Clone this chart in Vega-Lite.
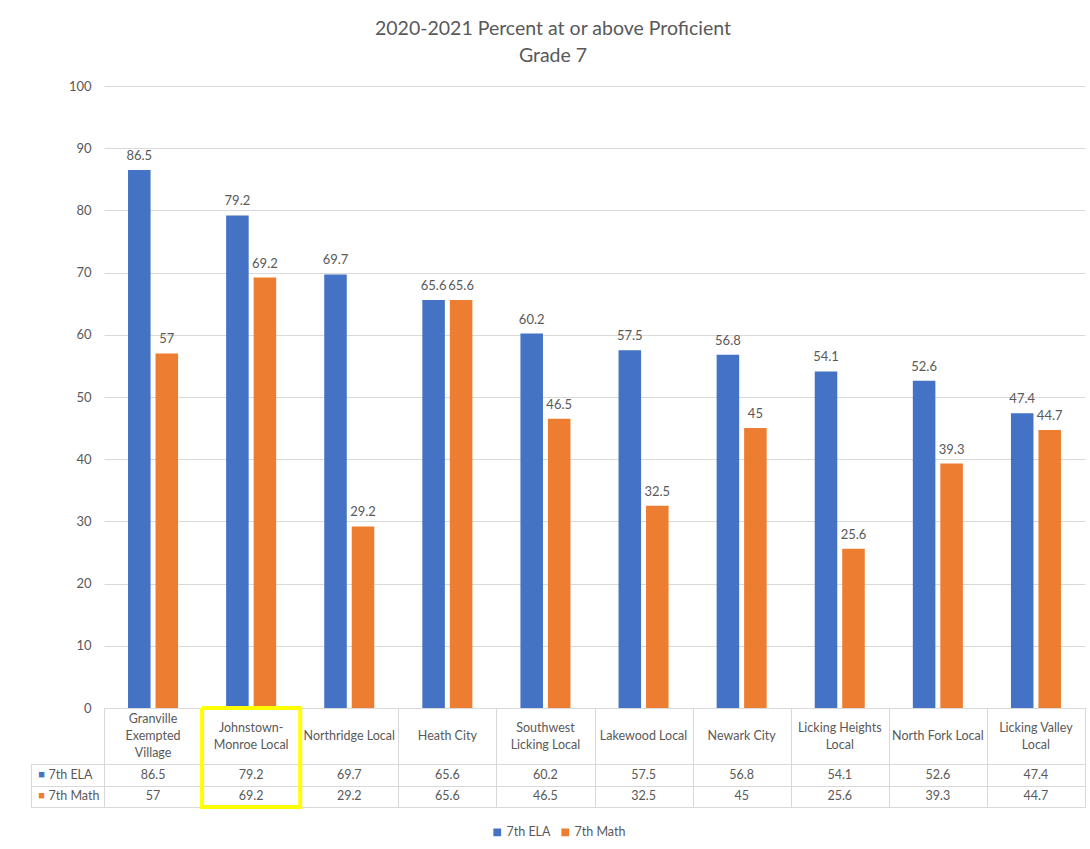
{
  "$schema": "https://vega.github.io/schema/vega-lite/v6.json",
  "padding": {"left": 30, "top": 19, "right": 6, "bottom": 5},
  "background": "white",
  "title": {
    "text": "2020-2021 Percent at or above Proficient",
    "subtitle": "Grade 7",
    "fontSize": 19.5, "fontWeight": "normal", "color": "#595959",
    "subtitleFontSize": 19.5, "subtitleColor": "#595959", "subtitlePadding": 7,
    "anchor": "middle", "offset": 14, "dx": -5
  },
  "datasets": {
    "main": [
      {"school": "Granville Exempted Village", "series": "7th ELA", "value": 86.5},
      {"school": "Granville Exempted Village", "series": "7th Math", "value": 57},
      {"school": "Johnstown-Monroe Local", "series": "7th ELA", "value": 79.2},
      {"school": "Johnstown-Monroe Local", "series": "7th Math", "value": 69.2},
      {"school": "Northridge Local", "series": "7th ELA", "value": 69.7},
      {"school": "Northridge Local", "series": "7th Math", "value": 29.2},
      {"school": "Heath City", "series": "7th ELA", "value": 65.6},
      {"school": "Heath City", "series": "7th Math", "value": 65.6},
      {"school": "Southwest Licking Local", "series": "7th ELA", "value": 60.2},
      {"school": "Southwest Licking Local", "series": "7th Math", "value": 46.5},
      {"school": "Lakewood Local", "series": "7th ELA", "value": 57.5},
      {"school": "Lakewood Local", "series": "7th Math", "value": 32.5},
      {"school": "Newark City", "series": "7th ELA", "value": 56.8},
      {"school": "Newark City", "series": "7th Math", "value": 45},
      {"school": "Licking Heights Local", "series": "7th ELA", "value": 54.1},
      {"school": "Licking Heights Local", "series": "7th Math", "value": 25.6},
      {"school": "North Fork Local", "series": "7th ELA", "value": 52.6},
      {"school": "North Fork Local", "series": "7th Math", "value": 39.3},
      {"school": "Licking Valley Local", "series": "7th ELA", "value": 47.4},
      {"school": "Licking Valley Local", "series": "7th Math", "value": 44.7}
    ],
    "schools": [
      {"school": "Granville Exempted Village", "label": ["Granville", "Exempted", "Village"]},
      {"school": "Johnstown-Monroe Local", "label": ["Johnstown-", "Monroe Local"]},
      {"school": "Northridge Local", "label": ["Northridge Local"]},
      {"school": "Heath City", "label": ["Heath City"]},
      {"school": "Southwest Licking Local", "label": ["Southwest", "Licking Local"]},
      {"school": "Lakewood Local", "label": ["Lakewood Local"]},
      {"school": "Newark City", "label": ["Newark City"]},
      {"school": "Licking Heights Local", "label": ["Licking Heights", "Local"]},
      {"school": "North Fork Local", "label": ["North Fork Local"]},
      {"school": "Licking Valley Local", "label": ["Licking Valley", "Local"]}
    ],
    "seriesList": [
      {"series": "7th ELA"},
      {"series": "7th Math"}
    ],
    "highlight": [
      {"school": "Johnstown-Monroe Local"}
    ]
  },
  "columns": 2,
  "spacing": 0,
  "bounds": "flush",
  "resolve": {"scale": {"x": "independent", "y": "independent"}},
  "concat": [
    {
      "width": 73, "height": 622,
      "data": {"values": [{}]},
      "mark": {"type": "text"},
      "encoding": {"text": {"value": ""}},
      "view": {"stroke": null}
    },
    {
      "width": 981, "height": 622,
      "data": {"name": "main"},
      "encoding": {
        "x": {"field": "school", "type": "nominal", "axis": null,
              "scale": {"domain": ["Granville Exempted Village", "Johnstown-Monroe Local", "Northridge Local", "Heath City", "Southwest Licking Local", "Lakewood Local", "Newark City", "Licking Heights Local", "North Fork Local", "Licking Valley Local"],
                        "paddingInner": 0.49, "paddingOuter": 0.245}},
        "xOffset": {"field": "series", "type": "nominal", "scale": {"paddingInner": 0.18}},
        "y": {"field": "value", "type": "quantitative",
              "scale": {"domain": [0, 100]},
              "axis": {"title": null, "values": [0,10,20,30,40,50,60,70,80,90,100],
                       "labelOverlap": false,
                       "domain": false, "ticks": false, "labelPadding": 13,
                       "labelFontSize": 13, "labelColor": "#595959",
                       "gridColor": "#d9d9d9", "gridWidth": 1}}
      },
      "layer": [
        {
          "mark": {"type": "bar"},
          "encoding": {
            "color": {"field": "series", "type": "nominal",
                      "scale": {"domain": ["7th ELA", "7th Math"], "range": ["#4472C4", "#ED7D31"]},
                      "legend": {"title": null, "orient": "bottom", "direction": "horizontal", "symbolType": "square",
                                 "symbolSize": 60, "labelFontSize": 12.5, "labelColor": "#595959", "labelOffset": 3,
                                 "columnPadding": 8, "offset": 16}}
          }
        },
        {
          "mark": {"type": "text", "baseline": "bottom", "dy": -7, "fontSize": 13, "color": "#595959"},
          "encoding": {"text": {"field": "value", "type": "quantitative"}}
        }
      ],
      "view": {"stroke": null}
    },
    {
      "width": 73, "height": 56,
      "data": {"values": [{}]},
      "mark": {"type": "text"},
      "encoding": {"text": {"value": ""}},
      "view": {"stroke": null}
    },
    {
      "width": 981, "height": 56,
      "encoding": {
        "x": {"field": "school", "type": "nominal",
              "scale": {"domain": ["Granville Exempted Village", "Johnstown-Monroe Local", "Northridge Local", "Heath City", "Southwest Licking Local", "Lakewood Local", "Newark City", "Licking Heights Local", "North Fork Local", "Licking Valley Local"],
                        "paddingInner": 0, "paddingOuter": 0},
              "axis": {"title": null, "labels": false, "ticks": false, "domain": false, "grid": true, "tickBand": "extent", "gridColor": "#d9d9d9", "gridOpacity": 1}}
      },
      "layer": [
        {
          "data": {"name": "schools"},
          "mark": {"type": "text", "fontSize": 12.5, "lineHeight": 17, "color": "#595959", "baseline": "middle",
                   "dy": {"expr": "-(length(datum.label) - 1) * 8.5"}},
          "encoding": {"text": {"field": "label", "type": "nominal"}}
        },
        {
          "data": {"name": "highlight"},
          "mark": {"type": "bar", "filled": false, "color": "#FFFF00", "strokeWidth": 4, "strokeDash": [154.1, 98.1, 56]}
        }
      ],
      "view": {"stroke": "#d9d9d9"}
    },
    {
      "width": 73, "height": 43,
      "data": {"name": "seriesList"},
      "encoding": {
        "y": {"field": "series", "type": "nominal",
              "scale": {"paddingInner": 0, "paddingOuter": 0},
              "axis": {"title": null, "labels": false, "ticks": false, "domain": false, "grid": true, "tickBand": "extent", "gridColor": "#d9d9d9"}}
      },
      "layer": [
        {
          "mark": {"type": "text", "text": "■", "fontSize": 11, "dx": -26, "baseline": "middle"},
          "encoding": {"color": {"field": "series", "type": "nominal"}}
        },
        {
          "mark": {"type": "text", "align": "left", "dx": -19, "fontSize": 12.5, "color": "#595959", "baseline": "middle"},
          "encoding": {"text": {"field": "series", "type": "nominal"}}
        }
      ],
      "view": {"stroke": "#d9d9d9"}
    },
    {
      "width": 981, "height": 43,
      "encoding": {
        "x": {"field": "school", "type": "nominal",
              "scale": {"domain": ["Granville Exempted Village", "Johnstown-Monroe Local", "Northridge Local", "Heath City", "Southwest Licking Local", "Lakewood Local", "Newark City", "Licking Heights Local", "North Fork Local", "Licking Valley Local"],
                        "paddingInner": 0, "paddingOuter": 0},
              "axis": {"title": null, "labels": false, "ticks": false, "domain": false, "grid": true, "tickBand": "extent", "gridColor": "#d9d9d9"}}
      },
      "layer": [
        {
          "data": {"name": "main"},
          "mark": {"type": "text", "fontSize": 12.5, "color": "#595959", "baseline": "middle"},
          "encoding": {
            "y": {"field": "series", "type": "nominal",
                  "scale": {"paddingInner": 0, "paddingOuter": 0},
                  "axis": {"title": null, "labels": false, "ticks": false, "domain": false, "grid": true, "tickBand": "extent", "gridColor": "#d9d9d9"}},
            "text": {"field": "value", "type": "quantitative"}
          }
        },
        {
          "data": {"name": "highlight"},
          "mark": {"type": "bar", "filled": false, "color": "#FFFF00", "strokeWidth": 4, "strokeDash": [0, 98.1, 184.1]}
        }
      ],
      "view": {"stroke": "#d9d9d9"}
    }
  ],
  "config": {
    "font": "Lato",
    "legend": {"layout": {"bottom": {"anchor": "middle"}}}
  }
}
